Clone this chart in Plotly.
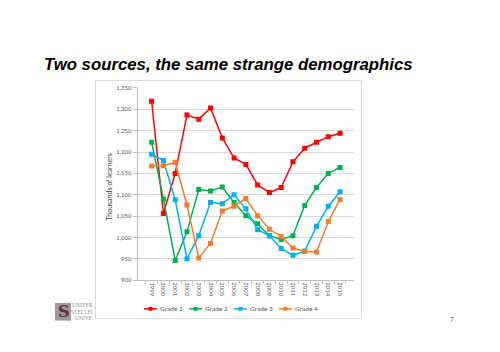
import plotly.graph_objects as go

years = ["1999", "2000", "2001", "2002", "2003", "2004", "2005", "2006", "2007",
         "2008", "2009", "2010", "2011", "2012", "2013", "2014", "2015"]

grade1 = [1319, 1056, 1150, 1287, 1277, 1303, 1233, 1186, 1171, 1123, 1105, 1117,
          1177, 1209, 1223, 1236, 1244]
grade2 = [1223, 1090, 946, 1013, 1112, 1109, 1118, 1082, 1051, 1032, 1004, 995,
          1004, 1075, 1117, 1150, 1164]
grade3 = [1195, 1180, 1088, 950, 1004, 1082, 1079, 1100, 1067, 1018, 1004, 974,
          958, 968, 1026, 1073, 1107]
grade4 = [1167, 1168, 1176, 1076, 952, 986, 1062, 1073, 1091, 1051, 1019, 1002,
          975, 967, 966, 1037, 1089]

series_names = ["Grade 1", "Grade 2", "Grade 3", "Grade 4"]
series_colors = ["#FF0000", "#00B050", "#00B0F0", "#ED7D31"]
y_ticks = [900, 950, 1000, 1050, 1100, 1150, 1200, 1250, 1300, 1350]

W, H = 500, 352


def px_x(x):
    return x / W


def px_y(y):
    return 1 - y / H


fig = go.Figure()
for name, vals, col in zip(series_names, [grade1, grade2, grade3, grade4], series_colors):
    fig.add_trace(go.Scatter(
        x=years, y=vals, name=name, mode="lines+markers",
        line=dict(color=col, width=1.5),
        marker=dict(symbol="square", size=5, color=col),
        showlegend=False,
    ))

axis_font = dict(family="Lato, sans-serif", size=6, color="#595959")

fig.update_layout(
    width=W, height=H,
    margin=dict(l=0, r=0, t=0, b=0),
    paper_bgcolor="white", plot_bgcolor="white",
    showlegend=False,
    xaxis=dict(domain=[px_x(137.7), px_x(354)], type="category",
               tickangle=90, tickfont=axis_font,
               showline=True, linecolor="#BFBFBF", linewidth=1,
               ticks="outside", ticklen=3, tickcolor="#BFBFBF",
               tickson="boundaries", showgrid=False, zeroline=False,
               fixedrange=True),
    yaxis=dict(domain=[px_y(281.7), px_y(85.7)], range=[900, 1350],
               tickvals=y_ticks, tickformat=",d", tickfont=axis_font,
               showline=True, linecolor="#BFBFBF", linewidth=1,
               ticks="outside", ticklen=4, tickcolor="#BFBFBF",
               showgrid=True, gridcolor="#D9D9D9", gridwidth=1, zeroline=False,
               fixedrange=True),
)

# y-axis title
fig.add_annotation(text="Thousands of learners", xref="paper", yref="paper",
                   x=px_x(109.5), y=px_y(187), textangle=-90, showarrow=False,
                   xanchor="center", yanchor="middle",
                   font=dict(family="Lato, sans-serif", size=7, color="#404040"))

# chart area border
fig.add_shape(type="rect", xref="paper", yref="paper",
              x0=px_x(95.5), x1=px_x(361.5), y0=px_y(321), y1=px_y(78),
              line=dict(color="#D9D9D9", width=1), fillcolor="rgba(0,0,0,0)", layer="below")

# legend (compact, Excel style)
leg_y = px_y(311)
for i, (name, col) in enumerate(zip(series_names, series_colors)):
    x0 = 144 + 45 * i
    fig.add_shape(type="line", xref="paper", yref="paper",
                  x0=px_x(x0), x1=px_x(x0 + 13), y0=leg_y, y1=leg_y,
                  line=dict(color=col, width=1.5))
    fig.add_shape(type="rect", xref="paper", yref="paper",
                  x0=px_x(x0 + 4.5), x1=px_x(x0 + 8.5), y0=px_y(313), y1=px_y(309),
                  line=dict(width=0), fillcolor=col)
    fig.add_annotation(text=name, xref="paper", yref="paper", x=px_x(x0 + 13.5), y=leg_y,
                       xanchor="left", yanchor="middle", showarrow=False,
                       font=dict(family="Lato, sans-serif", size=6.5, color="#595959"))

# logo placeholder (Stellenbosch)
fig.add_shape(type="rect", xref="paper", yref="paper",
              x0=px_x(55), x1=px_x(71), y0=px_y(323), y1=px_y(305),
              line=dict(width=0), fillcolor="#9A9A9A", layer="below")
fig.add_annotation(text="<b>S</b>", xref="paper", yref="paper", x=px_x(63.5), y=px_y(314),
                   showarrow=False, font=dict(family="DejaVu Serif, serif", size=16, color="#6B2A3A"),
                   xanchor="center", yanchor="middle")
for i, t in enumerate(["UNIVER", "STELLEI", "UNIVE"]):
    fig.add_annotation(text=t, xref="paper", yref="paper", x=px_x(95),
                       y=px_y(307.5 + i * 6.3), showarrow=False, xanchor="right", yanchor="middle",
                       font=dict(family="Liberation Serif, serif", size=5.5, color="#8C8C8C"))

# title
fig.add_annotation(text="<b><i>Two sources, the same strange demographics</i></b>",
                   xref="paper", yref="paper", x=px_x(42), y=px_y(62),
                   xanchor="left", yanchor="middle", showarrow=False,
                   font=dict(family="Liberation Sans, Arial, sans-serif", size=16.8, color="black"))

# page number
fig.add_annotation(text="7", xref="paper", yref="paper", x=px_x(455.5), y=px_y(321.5),
                   xanchor="right", yanchor="middle", showarrow=False,
                   font=dict(family="Liberation Sans, Arial, sans-serif", size=7, color="#595959"))

fig.write_html("out.html")
